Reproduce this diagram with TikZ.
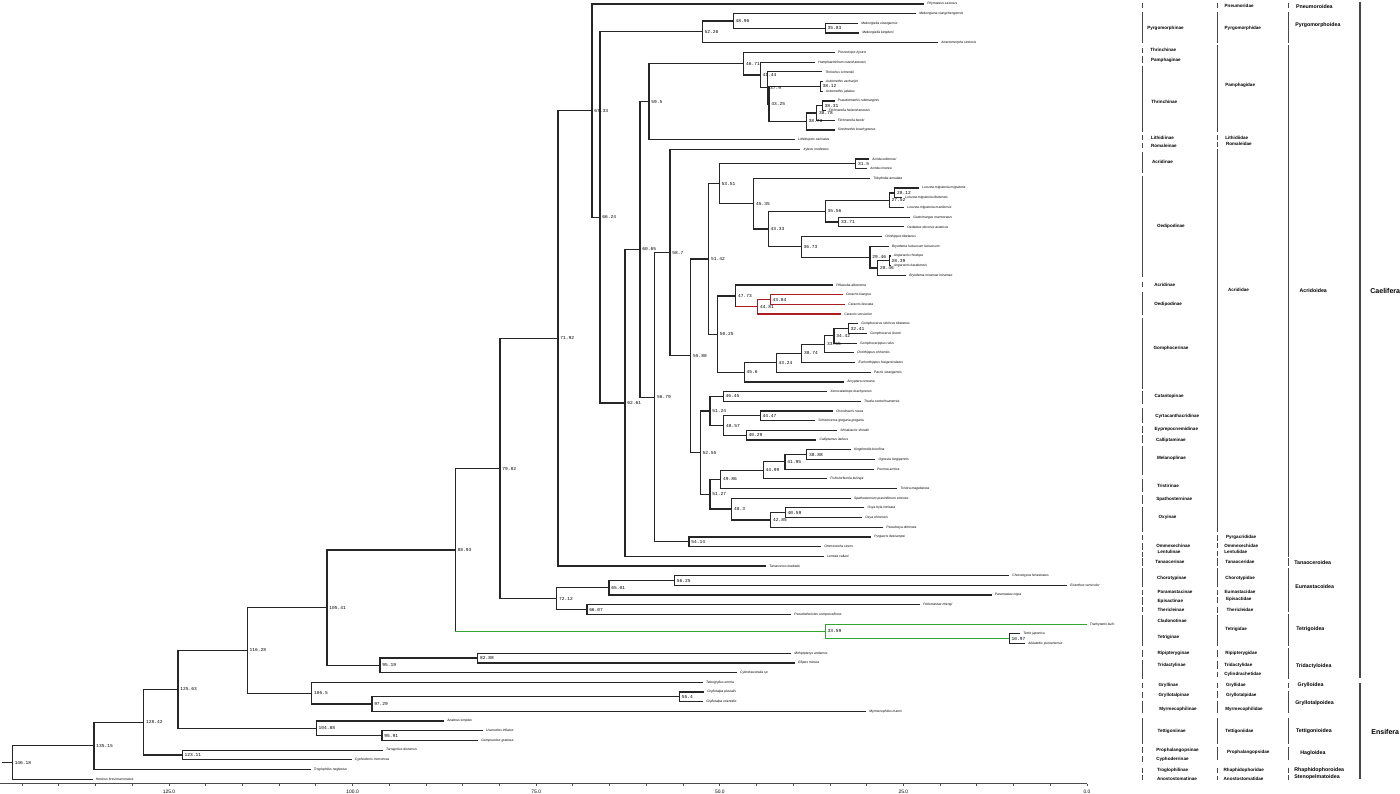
\documentclass[tikz,border=0pt]{standalone}
\usepackage{fontspec}
\setmainfont{Liberation Sans}
\setmonofont{Liberation Mono}
\usetikzlibrary{calc}
\definecolor{cerred}{RGB}{170,30,35}
\definecolor{tetgreen}{RGB}{50,165,50}
\definecolor{barcol}{RGB}{70,70,70}

% one clade: [colour] name, x, upper child, lower child, age
\newcommand{\clade}[6][]{%
  \coordinate (#2m) at ($(#4)!.5!(#5)$);
  \coordinate (#2x) at (#3,0);
  \coordinate (#2) at (#2x |- #2m);
  \draw[branch,#1] (#4) -| (#2) |- (#5);
  \node[age] (#2a) at (#2) {#6};
}

\begin{document}
\begin{tikzpicture}[x=0.02cm,y=-0.02cm,
  branch/.style={line width=0.7pt,black!85},
  age/.style={font={\fontsize{2.6}{3}\selectfont\ttfamily},anchor=west,inner sep=0,xshift=0.04cm},
  leaf/.style={font={\fontsize{1.9}{2.2}\selectfont\itshape},anchor=west,inner sep=0,xshift=0.06cm},
  bar/.style={line width=0.75pt,barcol},
  bigbar/.style={line width=1pt,barcol},
  sub/.style={font={\fontsize{2.6}{3}\selectfont\bfseries},anchor=west,inner sep=0},
  sup/.style={font={\fontsize{3}{3.5}\selectfont\bfseries},anchor=west,inner sep=0},
  order/.style={font={\fontsize{4}{4.5}\selectfont\bfseries},anchor=west,inner sep=0},
  axisline/.style={line width=0.5pt,black!70},
  ticklabel/.style={font={\fontsize{2.8}{3}\selectfont},inner sep=0}]
\useasboundingbox (0,0) rectangle (1400,794);
% Leaves: tip end and name
\foreach \tip/\sp [count=\i] in {924/Phymateus saxosus, 916/Mekongiana xiangchengensis,
  858/Mekongiella xizangensis, 859/Mekongiella kingdoni, 938/Atractomorpha sinensis,
  834.5/Prionotropis hystrix, 815/Humphaetrichum cuteshanensis, 822/Thrinchus schrenkii,
  822.5/Asiotmethis zacharjini, 822.5/Asiotmethis jubatus, 834.5/Pseudotmethis rubimarginis,
  825.5/Filchnerella helanshanensis, 834.5/Filchnerella beicki, 834.5/Sinotmethis brachypterus,
  795/Lithidiopsis carinatus, 800/Xyleus modestus, 869/Acrida willemsei, 867/Acrida cinerea,
  870/Trilophidia annulata, 919/Locusta migratoria migratoria, 902/Locusta migratoria tibetensis,
  904/Locusta migratoria manilensis, 910/Gastrimargus marmoratus, 904/Oedaleus decorus asiaticus,
  882/Orinhippus tibetanus, 888.7/Bryodema luctuosum luctuosum, 890.5/Angaracris rhodopa,
  890.5/Angaracris barabensis, 906/Bryodema miramae miramae, 833/Phlaeoba albonema,
  842.7/Ceracris kiangsu, 845/Ceracris fasciata, 841/Ceracris versicolor,
  858/Gomphocerus sibiricus tibetanus, 867/Gomphocerus licenti, 857/Gomphocerippus rufus,
  853.7/Chorthippus chinensis, 855.3/Euchorthippus fusigeniculatus, 870.7/Pacris xizangensis,
  844/Arcyptera coreana, 827/Xenocatantops brachycerus, 860.7/Traulia szetschuanensis,
  832.7/Chondracris rosea, 815/Schistocerca gregaria gregaria, 837/Shirakiacris shirakii,
  816.3/Calliptamus italicus, 850.7/Kingdonella bicollina, 875.3/Ognevia longipennis,
  873.7/Prumna arctica, 827/Fruhstorferiola kulinga, 897.3/Tristira magellanica,
  850.7/Spathosternum prasiniferum sinense, 864.3/Oxya hyla intricata, 862/Oxya chinensis,
  883/Pseudoxya diminuta, 871/Pyrgacris descampsi, 821/Ommexecha virens, 824/Lentula callani,
  766/Tanaocerus koebelei, 1009/Choroetypus fenestratus, 1067/Erianthus versicolor,
  991.6/Paramastax nigra, 920/Pielomastax zhengi, 791/Pseudothericles compressifrons,
  1086.6/Trachytettix bufo, 1020/Tetrix japonica, 1025/Alulatettix yunnanensis,
  791/Mirhipipteryx andensis, 795/Ellipes minuta, 736.8/Cylindraustralia sp,
  702.7/Teleogryllus emma, 704/Gryllotalpa pluvialis, 703/Gryllotalpa orientalis,
  866/Myrmecophilus manni, 444/Anabrus simplex, 482.8/Uvarovites inflatus,
  478/Gampsocleis gratiosa, 382.7/Tarragoilus diuturnus, 351.5/Cyphoderris monstrosa,
  310.6/Troglophilus neglectus, 92.5/Henicus brevimucronatus}{
  \coordinate (L\i) at (\tip,{4+9.69*(\i-1)});
  \node[leaf] (T\i) at (L\i) {\sp};
}
% Pyrgomorphidae
\clade{n3583}{825.3}{L3}{L4}{35.83}
\clade{n4896}{733.3}{L2}{n3583}{48.96}
\clade{n5226}{702.3}{n4896}{L5}{52.26}
% Pamphagidae
\clade{n3812}{820.3}{L9}{L10}{38.12}
\clade{n3831}{822.3}{L11}{L12}{38.31}
\clade{n3878}{816.7}{n3831}{L13}{38.78}
\clade{n3873}{806.3}{n3878}{L14}{38.73}
\clade{n4325}{769}{n3812}{n3873}{43.25}
\clade{n379}{767.7}{L8}{n4325}{37.9}
\clade{n4144}{760.3}{L7}{n379}{41.44}
\clade{n4671}{743.7}{L6}{n4144}{46.71}
\clade{n595}{649}{n4671}{L15}{59.5}
% Acrididae
\clade{n315}{855.7}{L17}{L18}{31.5}
\clade{n2812}{894.7}{L20}{L21}{28.12}
\clade{n2752}{889.3}{n2812}{L22}{27.52}
\clade{n3371}{838.7}{L23}{L24}{33.71}
\clade{n3556}{825.3}{n2752}{n3371}{35.56}
\clade{n2839}{889.3}{L27}{L28}{28.39}
\clade{n2846}{877.7}{n2839}{L29}{28.46}
\clade{n2946}{870}{L26}{n2846}{29.46}
\clade{n3673}{801.3}{L25}{n2946}{36.73}
\clade{n4333}{768.3}{n3556}{n3673}{43.33}
\clade{n4535}{753.7}{L19}{n4333}{45.35}
\clade{n5351}{719.3}{n315}{n4535}{53.51}
\clade[cerred]{n4384}{770.3}{L31}{L32}{43.84}
\clade[cerred]{n4481}{757.7}{n4384}{L33}{44.81}
\clade{n4773}{735.7}{L30}{n4481}{47.73}
\draw[branch,cerred] (n4773 |- n4481) -- (n4481);
\clade{n3241}{848.3}{L34}{L35}{32.41}
\clade{n3442}{834}{n3241}{L36}{34.42}
\clade{n3355}{824.7}{n3442}{L37}{33.55}
\clade{n3874}{801.7}{n3355}{L38}{38.74}
\clade{n4324}{776.3}{n3874}{L39}{43.24}
\clade{n456}{744.3}{n4324}{L40}{45.6}
\clade{n5025}{717.5}{n4773}{n456}{50.25}
\clade{n5142}{708.7}{n5351}{n5025}{51.42}
\clade{n4645}{723.3}{L41}{L42}{46.45}
\clade{n4447}{760.3}{L43}{L44}{44.47}
\clade{n4029}{746.3}{L45}{L46}{40.29}
\clade{n4857}{723.7}{n4447}{n4029}{48.57}
\clade{n5124}{710}{n4645}{n4857}{51.24}
\clade{n3888}{806.7}{L47}{L48}{38.88}
\clade{n4195}{785}{n3888}{L49}{41.95}
\clade{n4499}{763.3}{n4195}{L50}{44.99}
\clade{n4986}{720.7}{n4499}{L51}{49.86}
\clade{n4059}{785.3}{L53}{L54}{40.59}
\clade{n4285}{770.7}{n4059}{L55}{42.85}
\clade{n483}{731.7}{L52}{n4285}{48.3}
\clade{n5127}{710}{n4986}{n483}{51.27}
\clade{n5255}{700.3}{n5124}{n5127}{52.55}
\clade{n5588}{690.7}{n5142}{n5255}{55.88}
\clade{n587}{670}{L16}{n5588}{58.7}
\clade{n5414}{689}{L56}{L57}{54.14}
\clade{n5679}{654.7}{n587}{n5414}{56.79}
\clade{n6065}{640}{n595}{n5679}{60.65}
\clade{n6261}{625}{n6065}{L58}{62.61}
\clade{n6624}{600}{n5226}{n6261}{66.24}
\clade{n6733}{592}{L1}{n6624}{67.33}
\clade{n7192}{558}{n6733}{L59}{71.92}
% Eumastacoidea
\clade{n5625}{674.6}{L60}{L61}{56.25}
\clade{n6501}{609}{n5625}{L62}{65.01}
\clade{n6607}{586.9}{L63}{L64}{66.07}
\clade{n7212}{556.7}{n6501}{n6607}{72.12}
\clade{n7982}{500}{n7192}{n7212}{79.82}
% Tetrigidae
\clade{n1097}{1009.3}{L66}{L67}{10.97}
\clade[tetgreen]{n3359}{825.2}{L65}{n1097}{33.59}
\clade{n8893}{455.3}{n7982}{n3359}{88.93}
\draw[branch,tetgreen] (n8893 |- n3359) -- (n3359);
% Tridactyloidea
\clade{n8288}{477.7}{L68}{L69}{82.88}
\clade{n9519}{380}{n8288}{L70}{95.19}
\clade{n10541}{327}{n8893}{n9519}{105.41}
% Ensifera
\clade{n554}{679.5}{L72}{L73}{55.4}
\clade{n9729}{371.9}{n554}{L74}{97.29}
\clade{n1055}{311.8}{L71}{n9729}{105.5}
\clade{n11628}{247.3}{n10541}{n1055}{116.28}
\clade{n9591}{382}{L76}{L77}{95.91}
\clade{n10488}{316.3}{L75}{n9591}{104.88}
\clade{n12563}{178.1}{n11628}{n10488}{125.63}
\clade{n12311}{182.3}{L78}{L79}{123.11}
\clade{n12842}{143.7}{n12563}{n12311}{128.42}
\clade{n13515}{94.1}{n12842}{L80}{135.15}
\clade{n14618}{12.4}{n13515}{L81}{146.18}
\coordinate (rootx) at (2.3,0);
\draw[branch] (rootx |- n14618) -- (n14618);
% Time axis
\coordinate (ax0) at (0,783.7);
\coordinate (ax1) at (1087,783.7);
\draw[axisline] (ax0) -- (ax1);
\foreach \t in {0,5,...,145}
  \draw[axisline] ({1087-7.344*\t},783.7) -- ++(0,2.5);
\foreach \t/\txt in {0/0.0,25/25.0,50/50.0,75/75.0,100/100.0,125/125.0}
  \node[ticklabel] (tk\t) at ({1087-7.344*\t},791.3) {\txt};
% Subfamily column
\foreach \ya/\yb [count=\k] in {2.7/8.3,11.7/42.7,47.7/52.7,56/62.7,65.7/131.7,135/140,143.3/148.3,
  151.7/172.7,176/276.7,281.7/287.3,291.7/315,318.3/389.3,391/404,407.7/423.3,426/432.7,435/443.3,
  446/475,479.3/491.7,495/504,506.7/531.7,535/540,543.3/550,551.7/556.7,558.3/566,568.3/586.7,
  590/595,597.3/605,606.7/611.7,615/646,650/657.3,660/679.3,682.7/688.3,691.7/698.3,701/713.3,
  718.3/744,746.7/753.3,756/761.7,767.7/772.7,775/780}{
  \coordinate (sa\k) at (1142.7,\ya);
  \coordinate (sb\k) at (1142.7,\yb);
  \draw[bar] (sa\k) -- (sb\k);
}
\foreach \x/\y/\txt [count=\k] in {1147/28.7/Pyrgomorphinae,1150/50/Thrinchinae,1150.7/60.3/Pamphaginae,
  1151/101.7/Thrinchinae,1150.7/138/Lithidiinae,1150.7/146/Romaleinae,1151.7/162/Acridinae,
  1156.7/226.7/Oedipodinae,1154/285/Acridinae,1154/304/Oedipodinae,1153.3/348.3/Gomphocerinae,
  1154.3/396.7/Catantopinae,1155/416.7/Cyrtacanthacridinae,1154.3/429.7/Eyprepocnemidinae,
  1155.7/440/Calliptaminae,1156.7/458.3/Melanoplinae,1156.7/485.7/Tristirinae,
  1156/499.7/Spathosterninae,1158.3/517.3/Oxyinae,1156/546/Ommexechinae,1157.3/552.3/Lentulinae,
  1155/561.7/Tanaocerinae,1156.7/578.3/Chorotypinae,1157.3/592.3/Paramastacinae,
  1157.3/601.7/Episactinae,1157.3/610/Thericleinae,1157.3/621/Cladonotinae,1157.3/637.7/Tetriginae,
  1157.3/653.3/Ripipteryginae,1157.3/665.3/Tridactylinae,1158.3/685.3/Gryllinae,
  1158.3/695.7/Gryllotalpinae,1159/709/Myrmecophilinae,1157.3/731/Tettigoniinae,
  1156/750/Prophalangopsinae,1156/759/Cyphoderrinae,1156.7/770/Troglophilinae,
  1156.7/779/Anostostomatinae}
  \node[sub] (sl\k) at (\x,\y) {\txt};
% Family column
\foreach \ya/\yb [count=\k] in {2.7/8.3,11.7/42.7,45/131.7,135/140,142.3/146.7,149.3/531.7,535/540.7,
  543.3/548.3,550.7/556,558.3/566,568.3/586.7,590/595,596.7/603.3,606.7/612.7,615/646,650/656.7,
  660.7/669.3,671.7/677.3,682.7/688.3,690.7/698.3,701/713.3,718.3/744,746.7/760,767.7/772.7,776/780}{
  \coordinate (fa\k) at (1217.3,\ya);
  \coordinate (fb\k) at (1217.3,\yb);
  \draw[bar] (fa\k) -- (fb\k);
}
\foreach \x/\y/\txt [count=\k] in {1224.3/6/Pneumoridae,1224.3/28.7/Pyrgomorphidae,1225/85/Pamphagidae,
  1225/138/Lithidiidae,1225.7/144.3/Romaleidae,1227.7/290.3/Acrididae,1225.7/537.3/Pyrgacrididae,
  1224/546/Ommexechidae,1224/551.7/Lentulidae,1225/561.7/Tanaoceridae,1225/578.3/Chorotypidae,
  1224.3/592.3/Eumastacidae,1225.7/599.3/Episactidae,1226.3/610/Thericleidae,1225/629.3/Tetrigidae,
  1225/653.3/Ripipterygidae,1224/665.3/Tridactylidae,1224/674.3/Cylindrachetidae,
  1225.7/685.3/Gryllidae,1225.7/695.7/Gryllotalpidae,1225/709/Myrmecophilidae,
  1225/731/Tettigoniidae,1226.7/752.7/Prophalangopsidae,1223.3/770/Rhaphidophoridae,
  1223.3/779/Anostostomatidae}
  \node[sub] (fl\k) at (\x,\y) {\txt};
% Superfamily column
\foreach \ya/\yb [count=\k] in {2.7/8.3,11.7/42.7,45/556.7,558.3/566,568.3/611.7,614/646,648.3/679.3,
  682.7/688.3,690.7/713.3,718.3/744,746.7/760,767.7/772.7,775/780}{
  \coordinate (pa\k) at (1288.7,\ya);
  \coordinate (pb\k) at (1288.7,\yb);
  \draw[bar] (pa\k) -- (pb\k);
}
\foreach \x/\y/\txt [count=\k] in {1295.7/6.7/Pneumoroidea,1295/25.3/Pyrgomorphoidea,
  1299.3/290.7/Acridoidea,1294/562.3/Tanaoceroidea,1295/586.7/Eumastacoidea,1296/629.3/Tetrigoidea,
  1295.7/665.7/Tridactyloidea,1297.3/685/Grylloidea,1295/703.3/Gryllotalpoidea,
  1295.7/731/Tettigonioidea,1300/753.3/Hagloidea,1294/770/Rhaphidophoroidea,
  1294/776.7/Stenopelmatoidea}
  \node[sup] (pl\k) at (\x,\y) {\txt};
% Suborders
\coordinate (ca) at (1360,1.7);
\coordinate (cb) at (1360,678.3);
\coordinate (ea) at (1360,683.3);
\coordinate (eb) at (1360,779.3);
\draw[bigbar] (ca) -- (cb);
\draw[bigbar] (ea) -- (eb);
\node[order] (cael) at (1370,290.7) {Caelifera};
\node[order] (ensi) at (1371,732) {Ensifera};
\end{tikzpicture}
\end{document}
